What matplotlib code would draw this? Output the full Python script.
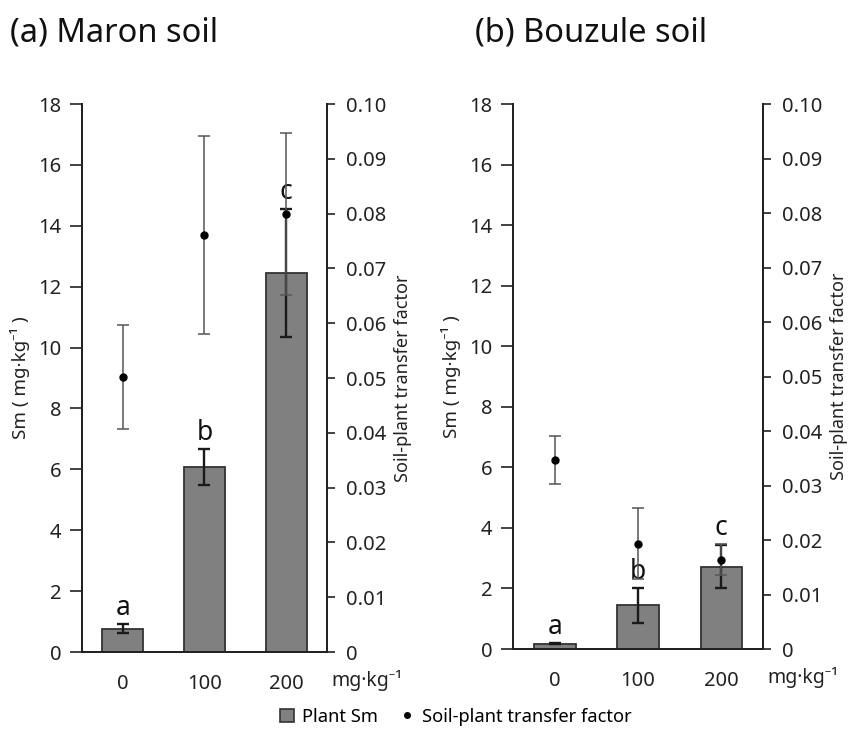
import matplotlib
matplotlib.use('Agg')
import matplotlib.pyplot as plt
from matplotlib.lines import Line2D
from matplotlib.patches import Patch

plt.rcParams['font.family'] = ['Noto Sans', 'DejaVu Sans']

doses = ['0', '100', '200']

# (a) Maron soil
maron_sm = [0.76, 6.08, 12.45]
maron_sm_err = [0.15, 0.6, 2.1]
maron_tf = [0.0502, 0.0761, 0.0799]
maron_tf_err = [0.0095, 0.018, 0.0148]
maron_letters = ['a', 'b', 'c']
maron_letter_y = [1.45, 7.2, 15.1]

# (b) Bouzule soil
bouz_sm = [0.17, 1.45, 2.72]
bouz_sm_err = [0.02, 0.58, 0.7]
bouz_tf = [0.0347, 0.0193, 0.0164]
bouz_tf_err = [0.0044, 0.0065, 0.0028]
bouz_letters = ['a', 'b', 'c']
bouz_letter_y = [0.73, 2.54, 4.0]

TXT = '#222222'
fig = plt.figure(figsize=(8.48, 7.29), dpi=100)


def panel(rect, title, title_x, sm, sm_err, tf, tf_err, letters, letter_y):
    ax = fig.add_axes(rect)
    x = list(range(len(doses)))
    ax.bar(x, sm, width=0.5, color='#808080', edgecolor='#333333', linewidth=1.3, zorder=2)
    ax.errorbar(x, sm, yerr=sm_err, fmt='none', ecolor='#1a1a1a', elinewidth=1.7,
                capsize=4, capthick=1.7, zorder=4)
    ax.set_xlim(-0.5, 2.5)
    ax.set_ylim(0, 18)
    ax.set_yticks(range(0, 19, 2))
    ax.set_xticks(x)
    ax.set_xticklabels(doses)
    ax.tick_params(axis='x', length=0, pad=16, labelsize=14.5, colors=TXT)
    ax.tick_params(axis='y', direction='out', length=9, width=1.2, pad=6,
                   labelsize=14.5, colors=TXT)
    ax.spines['top'].set_visible(False)
    for s in ['left', 'bottom', 'right']:
        ax.spines[s].set_linewidth(1.4)
        ax.spines[s].set_color(TXT)
    ax.set_ylabel('Sm ( mg·kg⁻¹ )', fontsize=13.5, color=TXT, labelpad=6)
    for xi, lt, ly in zip(x, letters, letter_y):
        ax.text(xi, ly, lt, ha='center', va='center', fontsize=19, color='#111111', zorder=5)
    ax.text(2.55, -0.052, 'mg·kg⁻¹', transform=ax.get_xaxis_transform(),
            ha='left', va='center', fontsize=14, color=TXT)
    fig.text(title_x, 0.955, title, ha='left', va='center', fontsize=23.5, color='#111111')

    ax2 = ax.twinx()
    ax2.errorbar(x, tf, yerr=tf_err, fmt='o', color='black', markersize=5,
                 ecolor='#555555', elinewidth=1.1, capsize=4, capthick=1.1, zorder=6)
    ax2.set_ylim(0, 0.1)
    ax2.set_yticks([0, 0.01, 0.02, 0.03, 0.04, 0.05, 0.06, 0.07, 0.08, 0.09, 0.10])
    ax2.set_yticklabels(['0', '0.01', '0.02', '0.03', '0.04', '0.05', '0.06',
                         '0.07', '0.08', '0.09', '0.10'])
    ax2.tick_params(axis='y', direction='out', length=6, width=1.2, pad=8,
                    labelsize=14.5, colors=TXT)
    ax2.spines['top'].set_visible(False)
    for s in ['left', 'bottom', 'right']:
        ax2.spines[s].set_linewidth(1.4)
        ax2.spines[s].set_color(TXT)
    ax2.set_ylabel('Soil-plant transfer factor', fontsize=13, color=TXT, labelpad=5)
    return ax, ax2


panel([0.0967, 0.1056, 0.2889, 0.7517], '(a) Maron soil', 0.012,
      maron_sm, maron_sm_err, maron_tf, maron_tf_err, maron_letters, maron_letter_y)
panel([0.605, 0.1097, 0.2948, 0.7476], '(b) Bouzule soil', 0.56,
      bouz_sm, bouz_sm_err, bouz_tf, bouz_tf_err, bouz_letters, bouz_letter_y)

handles = [Patch(facecolor='#808080', edgecolor='#333333', linewidth=1.2, label='Plant Sm'),
           Line2D([], [], marker='o', linestyle='none', color='black', markersize=4,
                  label='Soil-plant transfer factor')]
fig.legend(handles=handles, loc='center', bbox_to_anchor=(0.537, 0.017), ncol=2,
           frameon=False, fontsize=13.2, handlelength=0.8, handletextpad=0.4,
           columnspacing=1.2, borderpad=0.1)

plt.savefig('out.png', dpi=100)
plt.close()
